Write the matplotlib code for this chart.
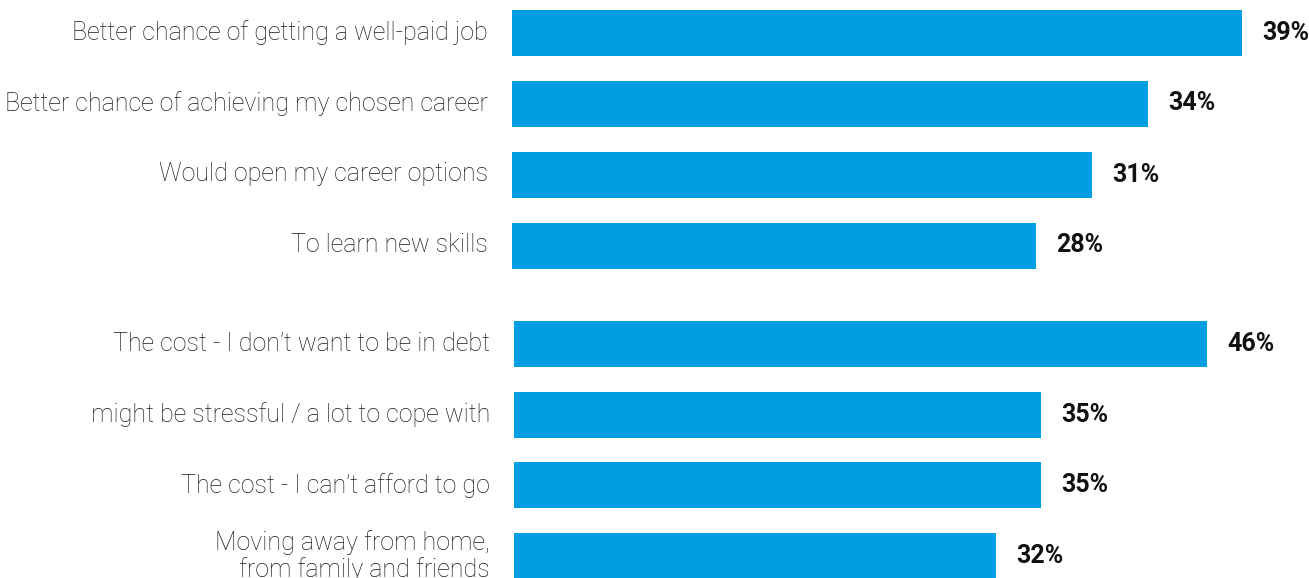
import matplotlib.pyplot as plt

# Reasons for going to university
pro_labels = [
    "Better chance of getting a well-paid job",
    "Better chance of achieving my chosen career",
    "Would open my career options",
    "To learn new skills",
]
pro_values = [39, 34, 31, 28]

# Reasons for not going
con_labels = [
    "The cost - I don\u2019t want to be in debt",
    "might be stressful / a lot to cope with",
    "The cost - I can\u2019t afford to go",
    "Moving away from home,\nfrom family and friends",
]
con_values = [46, 35, 35, 32]

BLUE = "#009fe3"
W, H = 1309, 578

fig = plt.figure(figsize=(W / 100, H / 100), dpi=100)


def px_axes(x0, y0, x1, y1):
    # axes placed by pixel box (top-left origin)
    return fig.add_axes([x0 / W, 1 - y1 / H, (x1 - x0) / W, (y1 - y0) / H])


def draw_group(ax, labels, values, xmax, first_center, step, top, bottom):
    ys = range(len(values))
    ax.barh(ys, values, height=46 / step, color=BLUE)
    ax.set_xlim(0, xmax)
    ax.set_ylim((bottom - first_center) / step, (top - first_center) / step)
    for y, lab, v in zip(ys, labels, values):
        ax.annotate(lab, (0, y), xytext=(-24, 0), textcoords="offset pixels",
                    ha="right", va="center", fontsize=18, family="Roboto",
                    fontweight="light", color="#1a1a1a", linespacing=1.1,
                    annotation_clip=False)
        ax.annotate(f"{v}%", (v, y), xytext=(20, 0), textcoords="offset pixels",
                    ha="left", va="center", fontsize=18, family="Roboto",
                    fontweight="bold", color="#111111", annotation_clip=False)
    ax.axis("off")


ax1 = px_axes(512, 0, 1309, 290)
draw_group(ax1, pro_labels, pro_values, 797 / 18.72, 32.5, 71, 0, 290)

ax2 = px_axes(514, 290, 1309, 578)
draw_group(ax2, con_labels, con_values, 795 / 15.07, 344, 70.7, 290, 578)

fig.savefig("out.png", dpi=100)
